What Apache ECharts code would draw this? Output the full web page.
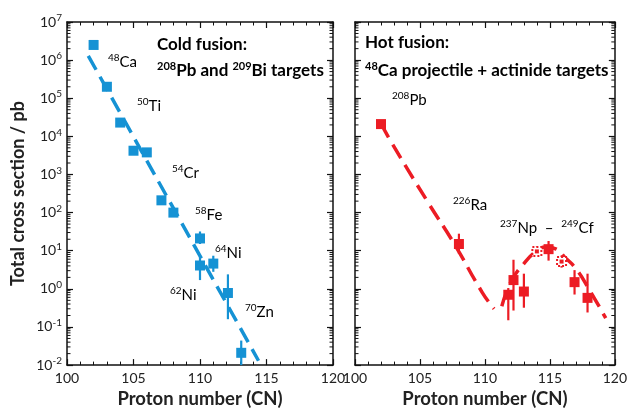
<!DOCTYPE html>
<html>
<head>
<meta charset="utf-8">
<script src="https://cdn.jsdelivr.net/npm/echarts@6/dist/echarts.min.js"></script>
<style>
  html, body { margin: 0; padding: 0; background: #fff; }
  #chart { width: 630px; height: 414px; }
</style>
</head>
<body>
<div id="chart"></div>
<script>
// cold fusion: [Z, cross section pb]
const coldPoints = [
  [102, 2.5e6], [103, 2.0e5], [104, 2.3e4], [105, 4.2e3], [106, 3.8e3],
  [107.1, 210], [108, 100], [110, 21], [110, 4.1], [111, 4.6], [112.1, 0.78], [113.1, 0.021]
]
// error bars [Z, low, high]
const coldErrors = [
  [110, 15, 32], [110, 1.7, 6.9], [111, 2.8, 7.4], [112.1, 0.16, 2.4], [113.1, 0.01, 0.044]
]
const coldFit = [[101.6, 1.3e6], [114.4, 0.013]]

// hot fusion
const hotPoints = [
  [102, 2.1e4], [108, 15], [111.8, 0.7], [112.2, 1.7], [113, 0.85],
  [114.9, 11], [116.9, 1.5], [117.9, 0.58]
]
const hotOpen = [[114, 9.6], [115.9, 5.2]]
const hotErrors = [
  [108, 8.3, 28], [111.8, 0.15, 1.05], [112.2, 0.27, 5.8], [113, 0.32, 2.5],
  [114, 7.5, 13], [114.9, 5.5, 18], [115.9, 3.6, 7.5], [116.9, 0.71, 3.1], [117.9, 0.24, 2.5]
]
const hotFitA = [[102, 2.2e4], [102.7, 8e3], [105.6, 190], [107.6, 16], [109.8, 0.8], [110.7, 0.3]]
const hotFitB = [
  [111.3, 0.35], [112, 1.5], [113, 4.6], [114, 10], [114.7, 12.5], [115.5, 11],
  [116.2, 6.5], [117, 3.4], [118, 1.0], [119.3, 0.17]
]

// log minor ticks (2..9 per decade)
const decades = [0.01, 0.1, 1, 10, 100, 1e3, 1e4, 1e5, 1e6]
const mantissas = [2, 3, 4, 5, 6, 7, 8, 9]
const minorTicks = []
decades.forEach(d => mantissas.forEach(m => minorTicks.push([m * d])))

const blue = '#1592d4'
const red = '#ec1c24'
const font = 'Lato'

const chart = echarts.init(document.getElementById('chart'))

function xAxis(grid, top, withLabel) {
  return {
    type: 'value', gridIndex: grid, min: 100, max: 120, interval: 5,
    position: top ? 'top' : 'bottom',
    name: withLabel ? 'Proton number (CN)' : '',
    nameLocation: 'middle', nameGap: 21,
    nameTextStyle: { fontFamily: font, fontWeight: 'bold', fontSize: 18.5, color: '#222' },
    axisLine: { lineStyle: { color: '#111', width: 1.5 } },
    axisTick: { inside: true, length: 6, lineStyle: { color: '#111', width: 1.2 } },
    minorTick: { show: true, splitNumber: 5, length: 3.5, lineStyle: { color: '#111', width: 1 } },
    axisLabel: { show: withLabel, fontFamily: font, fontSize: 14, color: '#222', margin: 6 },
    splitLine: { show: false }
  }
}

function yAxis(grid, right, withLabel) {
  return {
    type: 'log', logBase: 10, gridIndex: grid, min: 0.01, max: 1e7,
    position: right ? 'right' : 'left',
    name: withLabel ? 'Total cross section / pb' : '',
    nameLocation: 'middle', nameGap: 40,
    nameTextStyle: { fontFamily: font, fontWeight: 'bold', fontSize: 18, color: '#222' },
    axisLine: { lineStyle: { color: '#111', width: 1.5 } },
    axisTick: { inside: true, length: 6, lineStyle: { color: '#111', width: 1.2 } },
    minorTick: { show: false },
    axisLabel: {
      show: withLabel, margin: 5,
      formatter: function (v) {
        return '{b|10}{s|' + Math.round(Math.log10(v)) + '}'
      },
      rich: {
        b: { fontFamily: font, fontSize: 14, color: '#222', lineHeight: 18, verticalAlign: 'middle' },
        s: { fontFamily: font, fontSize: 10, color: '#222', lineHeight: 10, verticalAlign: 'top' }
      }
    },
    splitLine: { show: false }
  }
}

function errorSeries(data, xi, color) {
  return {
    type: 'custom', xAxisIndex: xi, yAxisIndex: xi, data: data, z: 3,
    renderItem: function (params, api) {
      const lo = api.coord([api.value(0), api.value(1)])
      const hi = api.coord([api.value(0), api.value(2)])
      return {
        type: 'line',
        shape: { x1: lo[0], y1: lo[1], x2: hi[0], y2: hi[1] },
        style: { stroke: color, lineWidth: 2.2 }
      }
    }
  }
}

// short inward ticks on both vertical frame edges
function minorTickSeries(xi) {
  return {
    type: 'custom', xAxisIndex: xi, yAxisIndex: xi, data: minorTicks, z: 2, silent: true,
    renderItem: function (params, api) {
      const l = api.coord([100, api.value(0)])
      const r = api.coord([120, api.value(0)])
      const st = { stroke: '#111', lineWidth: 1 }
      return {
        type: 'group',
        children: [
          { type: 'line', shape: { x1: l[0], y1: l[1], x2: l[0] + 3.5, y2: l[1] }, style: st },
          { type: 'line', shape: { x1: r[0], y1: r[1], x2: r[0] - 3.5, y2: r[1] }, style: st }
        ]
      }
    }
  }
}

const rich = {
  s: { fontFamily: font, fontSize: 10, color: '#222', lineHeight: 10, verticalAlign: 'top' },
  t: { fontFamily: font, fontSize: 15, color: '#222', lineHeight: 18, verticalAlign: 'middle' },
  sb: { fontFamily: font, fontSize: 11, fontWeight: 'bold', color: '#222', lineHeight: 10, verticalAlign: 'top' },
  tb: { fontFamily: font, fontSize: 17, fontWeight: 'bold', color: '#222', lineHeight: 20, verticalAlign: 'middle' }
}

function label(x, y, text) {
  return {
    type: 'text', left: x, top: y - 9, z: 10,
    style: { text: text, rich: rich }
  }
}

chart.setOption({
  animation: false,
  grid: [
    { left: 67, top: 22, width: 266, height: 352 },
    { left: 355, top: 22, width: 269, height: 352 }
  ],
  xAxis: [xAxis(0, false, true), xAxis(1, false, true), xAxis(0, true, false), xAxis(1, true, false)],
  yAxis: [yAxis(0, false, true), yAxis(1, false, false), yAxis(0, true, false), yAxis(1, true, false)],
  series: [
    minorTickSeries(0),
    minorTickSeries(1),
    {
      type: 'line', xAxisIndex: 0, yAxisIndex: 0, data: coldFit, symbol: 'none',
      lineStyle: { color: blue, width: 3.5, type: [16, 8] }
    },
    errorSeries(coldErrors, 0, blue),
    {
      type: 'scatter', xAxisIndex: 0, yAxisIndex: 0, data: coldPoints, symbol: 'rect',
      symbolSize: 10, itemStyle: { color: blue, opacity: 1 }, z: 4
    },
    {
      type: 'line', xAxisIndex: 1, yAxisIndex: 1, data: hotFitA, symbol: 'none', smooth: true,
      lineStyle: { color: red, width: 3.5, type: [16, 8] }
    },
    {
      type: 'line', xAxisIndex: 1, yAxisIndex: 1, data: hotFitB, symbol: 'none', smooth: true,
      lineStyle: { color: red, width: 3.5, type: [16, 8] }
    },
    errorSeries(hotErrors, 1, red),
    {
      type: 'scatter', xAxisIndex: 1, yAxisIndex: 1, data: hotPoints, symbol: 'rect',
      symbolSize: 10, itemStyle: { color: red, opacity: 1 }, z: 4
    },
    {
      type: 'scatter', xAxisIndex: 1, yAxisIndex: 1, data: hotOpen, symbol: 'rect',
      symbolSize: 9, itemStyle: { color: '#fff', borderColor: red, borderWidth: 2, borderType: [2, 2], opacity: 1 }, z: 4
    },
    {
      type: 'scatter', xAxisIndex: 1, yAxisIndex: 1, data: hotOpen, symbol: 'rect',
      symbolSize: 4, itemStyle: { color: red, opacity: 1 }, z: 5
    }
  ],
  graphic: [
    label(157, 45, '{tb|Cold fusion:}'),
    label(157, 70, '{sb|208}{tb|Pb and }{sb|209}{tb|Bi targets}'),
    label(108, 62, '{s|48}{t|Ca}'),
    label(137, 106, '{s|50}{t|Ti}'),
    label(172, 173, '{s|54}{t|Cr}'),
    label(195, 215, '{s|58}{t|Fe}'),
    label(215, 253, '{s|64}{t|Ni}'),
    label(170, 295, '{s|62}{t|Ni}'),
    label(245, 312, '{s|70}{t|Zn}'),
    label(365, 43, '{tb|Hot fusion:}'),
    label(365, 70, '{sb|48}{tb|Ca projectile + actinide targets}'),
    label(392, 100, '{s|208}{t|Pb}'),
    label(453, 205, '{s|226}{t|Ra}'),
    label(500, 228, '{s|237}{t|Np  \u2013  }{s|249}{t|Cf}')
  ]
})
</script>
</body>
</html>
